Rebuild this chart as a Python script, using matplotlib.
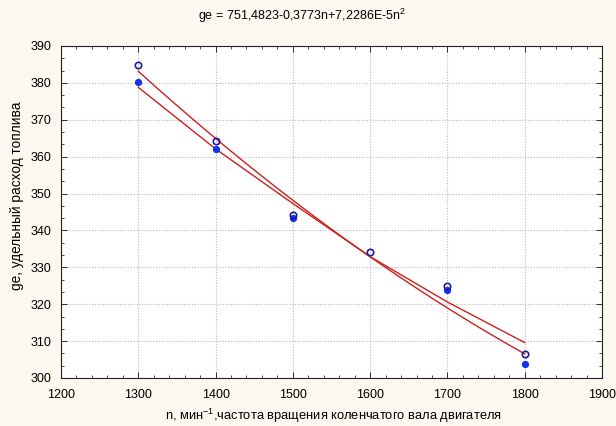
import numpy as np
import matplotlib
matplotlib.use("Agg")
import matplotlib.pyplot as plt
from matplotlib.ticker import AutoMinorLocator

plt.rcParams['font.family'] = ['Liberation Sans', 'DejaVu Sans']
plt.rcParams['mathtext.fontset'] = 'custom'
plt.rcParams['mathtext.rm'] = 'Liberation Sans'
plt.rcParams['mathtext.it'] = 'Liberation Sans'
plt.rcParams['mathtext.default'] = 'regular'

# engine speed, min^-1
n_vals = [1300, 1400, 1500, 1600, 1700, 1800]
# specific fuel consumption, two measurement series
ge_open = [384.9, 364.3, 344.3, 334.1, 325.0, 306.6]
ge_filled = [380.3, 362.0, 343.5, np.nan, 323.8, 303.9]
# second fitted curve, values at each speed
ge_fit2 = [378.8, 362.1, 347.3, 332.9, 320.6, 309.6]
# regression coefficients: ge = c0 + c1*n + c2*n^2
coef = [751.4823, -0.3773, 7.2286e-5]

x_ticks = [1200, 1300, 1400, 1500, 1600, 1700, 1800, 1900]
y_ticks = [300, 310, 320, 330, 340, 350, 360, 370, 380, 390]

fig = plt.figure(figsize=(6.16, 4.26), dpi=100, facecolor='#fbf8ef')
ax = fig.add_axes([61 / 616, 1 - 378 / 426, 541 / 616, 332 / 426])
ax.set_facecolor('white')

nn = np.linspace(n_vals[0], n_vals[-1], 200)
fit1 = coef[0] + coef[1] * nn + coef[2] * nn ** 2
ax.plot(nn, fit1, color='#cc1f1f', lw=1.0, zorder=3)
ax.plot(n_vals, ge_fit2, color='#cc1f1f', lw=1.0, zorder=3)

ax.plot(n_vals, ge_filled, 'o', ls='none', color='#1430f0', ms=4.2,
        mec='#1430f0', zorder=4)
ax.plot(n_vals, ge_open, 'o', ls='none', mfc='none', mec='#1c1c9c',
        ms=4.6, mew=1.2, zorder=5)

ax.set_xlim(x_ticks[0], x_ticks[-1])
ax.set_ylim(y_ticks[0], y_ticks[-1])
ax.set_xticks(x_ticks)
ax.set_yticks(y_ticks)
ax.xaxis.set_minor_locator(AutoMinorLocator(5))
ax.yaxis.set_minor_locator(AutoMinorLocator(3))
ax.tick_params(which='both', direction='in', top=True, right=True,
               labelsize=9, color='#303030')
ax.tick_params(which='major', length=4, width=0.7)
ax.tick_params(which='minor', length=2.5, width=0.6)
ax.tick_params(axis='x', which='major', pad=8)
ax.tick_params(axis='y', which='major', pad=7)
ax.grid(True, which='major', color='#b8b8b8', ls=(0, (1, 1.5)), lw=0.8)
ax.set_axisbelow(True)
for sp in ax.spines.values():
    sp.set_linewidth(0.8)
    sp.set_color('#202020')

fig.text(333 / 616, 1 - 416 / 426,
         r'n, мин$^{-1}$,частота вращения коленчатого вала двигателя',
         ha='center', va='center', fontsize=9.3)
fig.text(17 / 616, 1 - 196 / 426, 'ge, удельный расход топлива',
         ha='center', va='center', rotation=90, fontsize=9.8)
fig.text(0.49, 1 - 16 / 426, r'ge = 751,4823-0,3773n+7,2286E-5n$^2$',
         ha='center', va='center', fontsize=9)

fig.savefig('out.png', dpi=100, facecolor=fig.get_facecolor())
